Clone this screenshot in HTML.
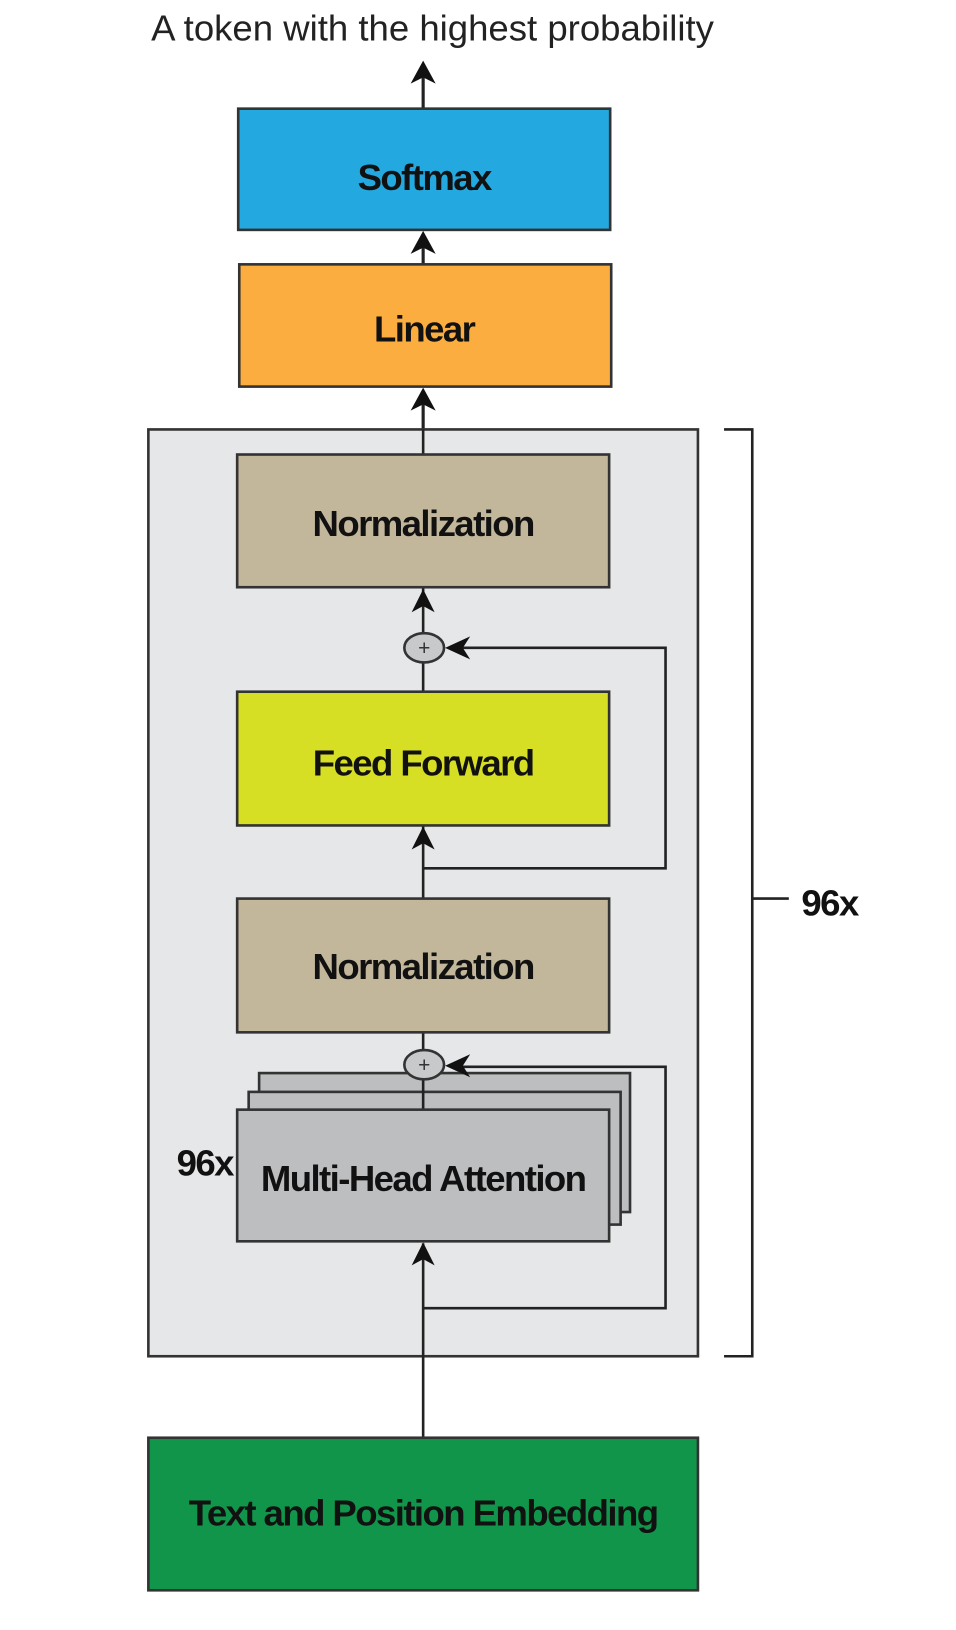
<!DOCTYPE html>
<html><head><meta charset="utf-8"><style>
html,body{margin:0;padding:0;background:#fff;}
svg{display:block;}
.b{font-family:"Liberation Sans",sans-serif;font-weight:bold;font-size:35px;letter-spacing:-1.5px;fill:#111;}
</style></head><body>
<svg width="956" height="1630" viewBox="0 0 915 1560" preserveAspectRatio="none" xmlns="http://www.w3.org/2000/svg">
<text x="414" y="39" text-anchor="middle" font-family="Liberation Sans,sans-serif" font-size="35" fill="#222">A token with the highest probability</text>
<g stroke="#222" stroke-width="3" fill="none">
<line x1="405" y1="104" x2="405" y2="64"/>
<line x1="405" y1="253" x2="405" y2="225"/>
<line x1="405" y1="411" x2="405" y2="375"/>
</g>
<g fill="#111">
<path d="M405 58 L393 80 L405 74 L417 80Z"/>
<path d="M405 221 L393 243 L405 237 L417 243Z"/>
<path d="M405 371 L393 393 L405 387 L417 393Z"/>
</g>
<rect x="228" y="104" width="356" height="116" fill="#23a8e0" stroke="#333" stroke-width="2.5"/>
<text class="b" x="406" y="182" text-anchor="middle">Softmax</text>
<rect x="229" y="253" width="356" height="117" fill="#fbad40" stroke="#333" stroke-width="2.5"/>
<text class="b" x="406" y="327" text-anchor="middle">Linear</text>
<rect x="142" y="411" width="526" height="887" fill="#e6e7e9" stroke="#333" stroke-width="2.5"/>
<g stroke="#222" stroke-width="2.5" fill="none">
<line x1="405" y1="411" x2="405" y2="435"/>
<line x1="405" y1="562" x2="405" y2="606"/>
<line x1="405" y1="634" x2="405" y2="662"/>
<line x1="405" y1="790" x2="405" y2="860"/>
<polyline points="405,831 637,831 637,620 432,620"/>
<line x1="405" y1="988" x2="405" y2="1005"/>
<polyline points="405,1252 637,1252 637,1021 432,1021"/>
<line x1="405" y1="1190" x2="405" y2="1376"/>
</g>
<rect x="227" y="435" width="356" height="127" fill="#c2b69b" stroke="#333" stroke-width="2.5"/>
<text class="b" x="405" y="513" text-anchor="middle">Normalization</text>
<path d="M405 564 L394 586 L405 580 L416 586Z" fill="#111"/>
<ellipse cx="406" cy="620" rx="19" ry="14" fill="#c8c9cb" stroke="#333" stroke-width="2.5"/>
<text x="406" y="627" text-anchor="middle" font-family="Liberation Sans,sans-serif" font-size="20" fill="#333">+</text>
<path d="M426 620 L450 609 L443 620 L450 631Z" fill="#111"/>
<rect x="227" y="662" width="356" height="128" fill="#d6df23" stroke="#333" stroke-width="2.5"/>
<text class="b" x="405" y="742" text-anchor="middle">Feed Forward</text>
<path d="M405 791 L394 813 L405 807 L416 813Z" fill="#111"/>
<rect x="227" y="860" width="356" height="128" fill="#c2b69b" stroke="#333" stroke-width="2.5"/>
<text class="b" x="405" y="937" text-anchor="middle">Normalization</text>
<rect x="248" y="1027" width="355" height="133" fill="#bcbec0" stroke="#333" stroke-width="2.5"/>
<rect x="238" y="1045" width="356" height="127" fill="#bcbec0" stroke="#333" stroke-width="2.5"/>
<line x1="405" y1="1033" x2="405" y2="1062" stroke="#222" stroke-width="2.5"/>
<ellipse cx="406" cy="1019" rx="19" ry="14" fill="#c8c9cb" stroke="#333" stroke-width="2.5"/>
<text x="406" y="1026" text-anchor="middle" font-family="Liberation Sans,sans-serif" font-size="20" fill="#333">+</text>
<path d="M426 1020 L450 1009 L443 1020 L450 1031Z" fill="#111"/>
<rect x="227" y="1062" width="356" height="126" fill="#bcbec0" stroke="#333" stroke-width="2.5"/>
<text class="b" x="405" y="1140" text-anchor="middle">Multi-Head Attention</text>
<text class="b" x="196" y="1125" text-anchor="middle">96x</text>
<path d="M405 1189 L394 1211 L405 1205 L416 1211Z" fill="#111"/>
<rect x="142" y="1376" width="526" height="146" fill="#10954a" stroke="#333" stroke-width="2.5"/>
<text class="b" x="405" y="1460" text-anchor="middle">Text and Position Embedding</text>
<polyline points="693,411 720,411 720,1298 693,1298" fill="none" stroke="#222" stroke-width="2.5"/>
<line x1="720" y1="860" x2="755" y2="860" stroke="#222" stroke-width="2.5"/>
<text class="b" x="794" y="876" text-anchor="middle">96x</text>
</svg>
</body></html>
